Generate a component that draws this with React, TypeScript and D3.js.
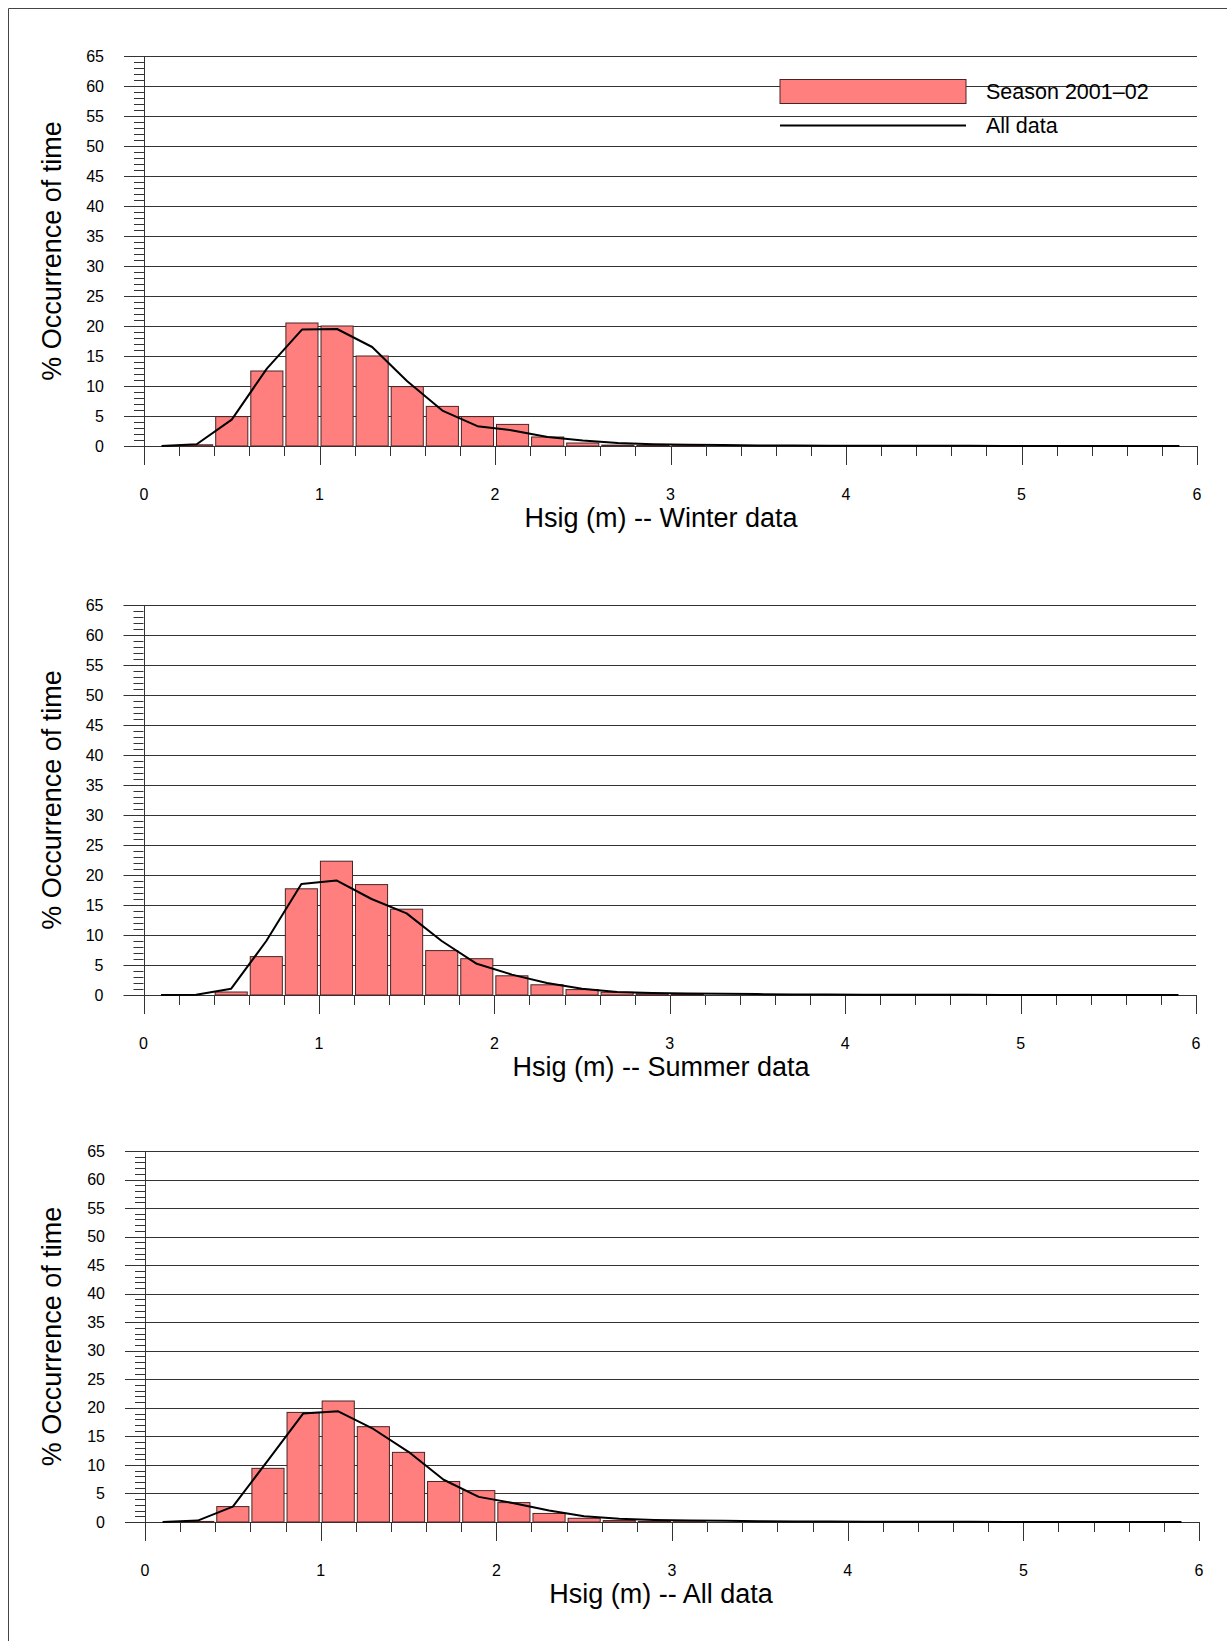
import React from 'react';
import * as d3 from 'd3';

// bin centres (Hsig, m), bins are 0.2 m wide
const binCentres = [
  0.1, 0.3, 0.5, 0.7, 0.9, 1.1, 1.3, 1.5, 1.7, 1.9,
  2.1, 2.3, 2.5, 2.7, 2.9, 3.1, 3.3, 3.5, 3.7, 3.9,
  4.1, 4.3, 4.5, 4.7, 4.9, 5.1, 5.3, 5.5, 5.7, 5.9,
];

const xTicks = [0, 1, 2, 3, 4, 5, 6];
const xMinorTicks = [0.2, 0.4, 0.6, 0.8, 1.2, 1.4, 1.6, 1.8, 2.2, 2.4, 2.6, 2.8, 3.2, 3.4, 3.6, 3.8, 4.2, 4.4, 4.6, 4.8, 5.2, 5.4, 5.6, 5.8];
const yTicks = [0, 5, 10, 15, 20, 25, 30, 35, 40, 45, 50, 55, 60, 65];

// Season 2001-02 bars
const winterBars = [0, 0.2, 4.9, 12.5, 20.5, 20.0, 15.0, 9.9, 6.6, 4.9, 3.6, 1.5, 0.5, 0.15, 0.1, 0.05, 0, 0, 0, 0, 0, 0, 0, 0, 0, 0, 0, 0, 0, 0];
const summerBars = [0, 0, 0.5, 6.4, 17.7, 22.3, 18.4, 14.3, 7.4, 6.05, 3.2, 1.7, 0.9, 0.45, 0.2, 0.1, 0, 0, 0, 0, 0, 0, 0, 0, 0, 0, 0, 0, 0, 0];
const allBars = [0, 0.1, 2.7, 9.4, 19.2, 21.2, 16.7, 12.2, 7.1, 5.5, 3.4, 1.5, 0.65, 0.25, 0.1, 0.05, 0, 0, 0, 0, 0, 0, 0, 0, 0, 0, 0, 0, 0, 0];

// All data lines
const winterLine = [0, 0.3, 4.4, 12.9, 19.4, 19.5, 16.5, 10.8, 5.9, 3.3, 2.6, 1.5, 0.9, 0.5, 0.3, 0.2, 0.15, 0.1, 0.08, 0.06, 0.05, 0.04, 0.03, 0.03, 0.02, 0.02, 0.01, 0.01, 0.01, 0];
const summerLine = [0, 0.05, 1.05, 9.0, 18.5, 19.1, 16.0, 13.6, 9.0, 5.2, 3.4, 2.0, 1.05, 0.5, 0.33, 0.25, 0.2, 0.15, 0.1, 0.08, 0.06, 0.05, 0.04, 0.03, 0.02, 0.02, 0.01, 0.01, 0.01, 0];
const allLine = [0, 0.25, 2.7, 10.8, 19.0, 19.4, 16.3, 12.3, 7.4, 4.4, 3.3, 2.0, 1.0, 0.55, 0.35, 0.25, 0.2, 0.15, 0.1, 0.08, 0.06, 0.05, 0.04, 0.03, 0.02, 0.02, 0.01, 0.01, 0.01, 0];

const FONT = '"Liberation Sans", Arial, Helvetica, sans-serif';
const BAR_FILL = '#ff7f7f';
const BAR_STROKE = '#4a2424';
const GRID = '#333';

const panels = [
  { title: 'Hsig (m) -- Winter data', bars: winterBars, line: winterLine, top: 56, bottom: 446, left: 144, right: 1197, legend: true },
  { title: 'Hsig (m) -- Summer data', bars: summerBars, line: summerLine, top: 605, bottom: 995, left: 143.5, right: 1196, legend: false },
  { title: 'Hsig (m) -- All data', bars: allBars, line: allLine, top: 1151, bottom: 1522, left: 145, right: 1199, legend: false },
];

function Panel({ p }) {
  const x = d3.scaleLinear().domain([0, 6]).range([p.left, p.right]);
  const y = d3.scaleLinear().domain([0, 65]).range([p.bottom, p.top]);
  const line = d3.line().x((d, i) => x(binCentres[i])).y((d) => y(d));
  const minorY = d3.range(0, 66, 1);

  return (
    <g>
      {/* gridlines + major y ticks */}
      {yTicks.map((t) => (
        <line key={'g' + t} x1={p.left - 20} x2={p.right} y1={Math.round(y(t)) + 0.5} y2={Math.round(y(t)) + 0.5} stroke={GRID} strokeWidth={1} />
      ))}
      {/* minor y ticks */}
      {minorY.map((t) => (
        <line key={'m' + t} x1={p.left - 10} x2={p.left} y1={Math.round(y(t)) + 0.5} y2={Math.round(y(t)) + 0.5} stroke={GRID} strokeWidth={1} />
      ))}
      <line x1={Math.round(p.left) + 0.5} x2={Math.round(p.left) + 0.5} y1={p.top} y2={p.bottom + 19} stroke={GRID} strokeWidth={1} />
      {yTicks.map((t) => (
        <text key={'yl' + t} x={p.left - 40} y={y(t)} dy="0.35em" textAnchor="end" fontSize={16} fontFamily={FONT} fill="#000">{t}</text>
      ))}

      {/* x ticks */}
      {xTicks.map((t) => (
        <line key={'xt' + t} x1={Math.round(x(t)) + 0.5} x2={Math.round(x(t)) + 0.5} y1={p.bottom} y2={p.bottom + 19} stroke={GRID} strokeWidth={1} />
      ))}
      {xMinorTicks.map((t) => (
        <line key={'xm' + t} x1={Math.round(x(t)) + 0.5} x2={Math.round(x(t)) + 0.5} y1={p.bottom} y2={p.bottom + 10} stroke={GRID} strokeWidth={1} />
      ))}
      {xTicks.map((t) => (
        <text key={'xl' + t} x={x(t)} y={p.bottom + 54} textAnchor="middle" fontSize={16} fontFamily={FONT} fill="#000">{t}</text>
      ))}

      {/* bars */}
      {p.bars.map((v, i) => v > 0 ? (
        <rect key={'b' + i}
          x={x(binCentres[i] - 0.1) + 1.5}
          width={x(binCentres[i] + 0.1) - x(binCentres[i] - 0.1) - 3}
          y={y(v)}
          height={y(0) - y(v)}
          fill={BAR_FILL} stroke={BAR_STROKE} strokeWidth={1} />
      ) : null)}

      {/* all data line */}
      <path d={line(p.line)} fill="none" stroke="#000" strokeWidth={2} strokeLinejoin="round" />

      {/* axis titles */}
      <text x={661} y={p.bottom + 72} dy="0.35em" textAnchor="middle" fontSize={27} fontFamily={FONT} fill="#000">{p.title}</text>
      <text transform={`translate(52,${(p.top + p.bottom) / 2}) rotate(-90)`} dy="0.35em" textAnchor="middle" fontSize={27} fontFamily={FONT} fill="#000">% Occurrence of time</text>

      {p.legend && (
        <g fontFamily={FONT} fontSize={21.5} fill="#000">
          <rect x={780} y={79.5} width={186} height={24} fill={BAR_FILL} stroke={BAR_STROKE} strokeWidth={1} />
          <text x={986} y={99}>Season 2001–02</text>
          <line x1={780} x2={966} y1={125.5} y2={125.5} stroke="#000" strokeWidth={2} />
          <text x={986} y={132.5}>All data</text>
        </g>
      )}
    </g>
  );
}

export default function App() {
  return (
    <svg width={1227} height={1641} style={{ position: 'absolute', left: 0, top: 0, background: '#fff' }}>
      <rect x={0} y={0} width={1227} height={1641} fill="#fff" />
      <line x1={8.5} x2={1227} y1={8.5} y2={8.5} stroke="#444" strokeWidth={1} />
      <line x1={8.5} x2={8.5} y1={8.5} y2={1641} stroke="#444" strokeWidth={1} />
      {panels.map((p, i) => <Panel key={i} p={p} />)}
    </svg>
  );
}
